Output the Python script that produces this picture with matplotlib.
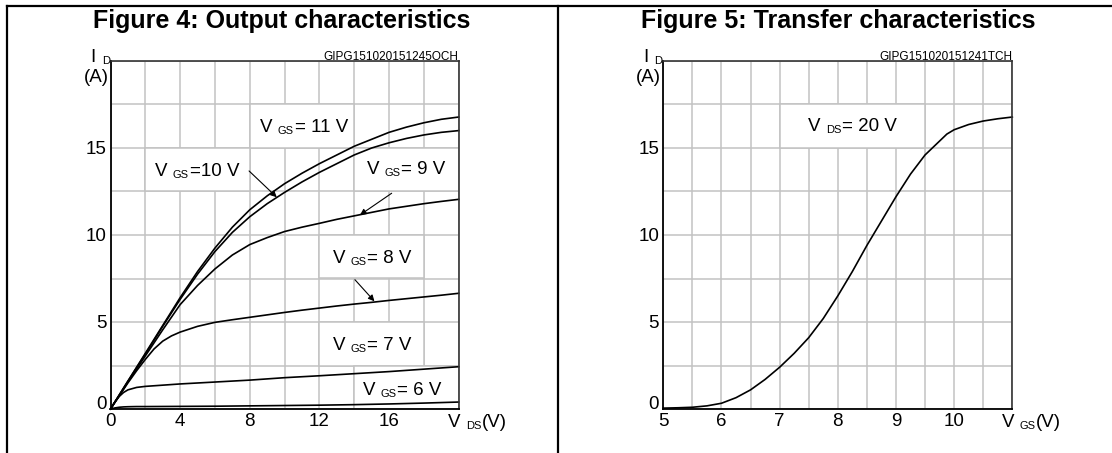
import matplotlib
matplotlib.use("Agg")
import matplotlib.pyplot as plt
from matplotlib.patches import Rectangle
from matplotlib.lines import Line2D
from matplotlib.ticker import MultipleLocator

plt.rcParams['font.family'] = ['Liberation Sans', 'DejaVu Sans']

# ---------- data: Figure 4, output characteristics (I_D vs V_DS) ----------
vds = [0, 1, 2, 3, 4, 5, 6, 7, 8, 9, 10, 11, 12, 13, 14, 15, 16, 17, 18, 19, 20]
id_vgs11 = [0, 1.6, 3.2, 4.8, 6.4, 7.9, 9.25, 10.45, 11.45, 12.25, 12.95, 13.55, 14.1,
            14.6, 15.1, 15.5, 15.9, 16.2, 16.45, 16.65, 16.78]
id_vgs10 = [0, 1.6, 3.15, 4.75, 6.3, 7.75, 9.05, 10.15, 11.05, 11.8, 12.45, 13.05, 13.6,
            14.1, 14.6, 15.0, 15.3, 15.55, 15.75, 15.9, 16.0]
id_vgs9 = [0, 1.55, 3.05, 4.55, 6.0, 7.1, 8.05, 8.85, 9.45, 9.85, 10.2, 10.45, 10.67,
           10.9, 11.1, 11.3, 11.5, 11.65, 11.8, 11.93, 12.05]

vds_8 = [0, 0.5, 1, 1.5, 2, 2.5, 3, 3.5, 4, 5, 6, 7, 8, 9, 10, 11, 12, 13, 14, 15, 16, 17, 18, 19, 20]
id_vgs8 = [0, 0.75, 1.5, 2.2, 2.85, 3.45, 3.9, 4.2, 4.42, 4.75, 4.98, 5.13, 5.27, 5.41, 5.55,
           5.68, 5.8, 5.92, 6.03, 6.13, 6.24, 6.34, 6.44, 6.54, 6.65]

vds_low = [0, 0.25, 0.5, 0.75, 1, 1.5, 2, 4, 6, 8, 10, 12, 14, 16, 18, 20]
id_vgs7 = [0, 0.4, 0.72, 0.95, 1.1, 1.24, 1.3, 1.44, 1.55, 1.66, 1.8, 1.91, 2.03, 2.15, 2.29, 2.43]
id_vgs6 = [0, 0.06, 0.1, 0.12, 0.13, 0.14, 0.14, 0.15, 0.16, 0.18, 0.2, 0.22, 0.25, 0.29, 0.34, 0.4]

# ---------- data: Figure 5, transfer characteristics (I_D vs V_GS) ----------
vgs = [5, 5.25, 5.5, 5.75, 6, 6.25, 6.5, 6.75, 7, 7.25, 7.5, 7.75, 8, 8.25, 8.5, 8.75,
       9, 9.25, 9.5, 9.75, 9.875, 10, 10.25, 10.5, 10.75, 11]
id_transfer = [0.05, 0.07, 0.1, 0.18, 0.33, 0.65, 1.1, 1.7, 2.4, 3.2, 4.1, 5.2, 6.5, 7.9,
               9.4, 10.8, 12.2, 13.5, 14.6, 15.4, 15.8, 16.05, 16.35, 16.55, 16.68, 16.78]

W, H = 1112, 453
GRID = '#c2c2c2'
MAIN = 13.5
SUB = 8


def sub_label(ax, xy, xycoords, main, sub, rest, off=(0, 0), gap=5):
    # main text + small lowered subscript + rest, baselines chained
    t1 = ax.annotate(main, xy=xy, xycoords=xycoords, xytext=off, textcoords='offset pixels',
                     fontsize=MAIN, ha='left', va='baseline', annotation_clip=False, zorder=4)
    t2 = ax.annotate(sub, xy=(1, 0), xycoords=t1, xytext=(gap, 0), textcoords='offset pixels',
                     fontsize=SUB, ha='left', va='bottom', annotation_clip=False, zorder=4)
    if rest:
        ax.annotate(rest, xy=(1, 0), xycoords=(t2, t1), xytext=(1, 0), textcoords='offset pixels',
                    fontsize=MAIN, ha='left', va='bottom', annotation_clip=False, zorder=4)


def white_box(ax, x0, y0, x1, y1):
    ax.add_patch(Rectangle((x0, y0), x1 - x0, y1 - y0, facecolor='white',
                           edgecolor=GRID, lw=1.1, zorder=1))


def arrow(ax, tail, tip):
    ax.annotate('', xy=tip, xytext=tail,
                arrowprops=dict(arrowstyle='-|>', color='black', lw=0.8,
                                mutation_scale=9, shrinkA=0, shrinkB=0), zorder=4)


def style_axes(ax, code, xlabel_x, xlabel_sub):
    ax.set_axisbelow(True)
    ax.grid(True, which='both', color=GRID, lw=1.1)
    ax.tick_params(which='both', length=0, labelsize=MAIN, pad=3)
    for side in ['left', 'bottom']:
        ax.spines[side].set_color('black')
        ax.spines[side].set_linewidth(1.3)
    for side in ['top', 'right']:
        ax.spines[side].set_color('#333333')
        ax.spines[side].set_linewidth(1.2)
    ax.set_ylim(0, 20)
    ax.yaxis.set_major_locator(MultipleLocator(5))
    ax.yaxis.set_minor_locator(MultipleLocator(2.5))
    ax.set_yticks([0, 5, 10, 15])
    ax.yaxis.get_major_ticks()[0].label1.set_va('baseline')
    # part number, y label, x label
    ax.annotate(code, xy=(1, 1), xycoords='axes fraction', xytext=(0, 1), textcoords='offset pixels',
                ha='right', va='baseline', fontsize=8.5, annotation_clip=False)
    sub_label(ax, (0, 1), 'axes fraction', 'I', 'D', '', off=(-20, -1), gap=6)
    ax.annotate('(A)', xy=(0, 1), xycoords='axes fraction', xytext=(-2, -21), textcoords='offset pixels',
                ha='right', va='baseline', fontsize=MAIN, annotation_clip=False)
    sub_label(ax, (xlabel_x, 0), ('data', 'axes fraction'), 'V', xlabel_sub, '(V)', off=(0, -18))


fig = plt.figure(figsize=(W / 100, H / 100), dpi=100)
ax1 = fig.add_axes([110.5 / W, 1 - 409 / H, 348.2 / W, 348 / H])
ax2 = fig.add_axes([663.3 / W, 1 - 409 / H, 349 / W, 348 / H])

# ---------- Figure 4 ----------
ax1.set_xlim(0, 20)
ax1.xaxis.set_minor_locator(MultipleLocator(2))
ax1.set_xticks([0, 4, 8, 12, 16])
style_axes(ax1, 'GIPG151020151245OCH', 19.4, 'DS')

white_box(ax1, 8, 15, 14, 17.5)
white_box(ax1, 2, 12.5, 8, 15)
white_box(ax1, 14, 12.5, 20, 15)
white_box(ax1, 12, 7.5, 18, 10)
white_box(ax1, 12, 2.5, 18, 5)
white_box(ax1, 14, 0, 20, 2.5)

for xs, ys in [(vds, id_vgs11), (vds, id_vgs10), (vds, id_vgs9),
               (vds_8, id_vgs8), (vds_low, id_vgs7), (vds_low, id_vgs6)]:
    ax1.plot(xs, ys, color='black', lw=1.2, zorder=2, clip_on=False)

sub_label(ax1, (8.59, 15.9), 'data', 'V', 'GS', '= 11 V')
sub_label(ax1, (2.56, 13.39), 'data', 'V', 'GS', '=10 V')
sub_label(ax1, (14.71, 13.5), 'data', 'V', 'GS', '= 9 V')
sub_label(ax1, (12.76, 8.38), 'data', 'V', 'GS', '= 8 V')
sub_label(ax1, (12.78, 3.37), 'data', 'V', 'GS', '= 7 V')
sub_label(ax1, (14.5, 0.83), 'data', 'V', 'GS', '= 6 V')

arrow(ax1, (7.96, 13.68), (9.55, 12.17))
arrow(ax1, (16.15, 12.4), (14.33, 11.15))
arrow(ax1, (14.04, 7.43), (15.16, 6.19))

# ---------- Figure 5 ----------
ax2.set_xlim(5, 11)
ax2.xaxis.set_minor_locator(MultipleLocator(0.5))
ax2.set_xticks([5, 6, 7, 8, 9, 10])
style_axes(ax2, 'GIPG151020151241TCH', 10.82, 'GS')

white_box(ax2, 7, 15, 9.5, 17.5)
ax2.plot(vgs, id_transfer, color='black', lw=1.2, zorder=2, clip_on=False)
sub_label(ax2, (7.49, 16.0), 'data', 'V', 'DS', '= 20 V')

# ---------- titles and table frame ----------
fig.text(282 / W, 1 - 28 / H, 'Figure 4: Output characteristics', ha='center', va='baseline',
         fontsize=18, fontweight='bold')
fig.text(838 / W, 1 - 28 / H, 'Figure 5: Transfer characteristics', ha='center', va='baseline',
         fontsize=18, fontweight='bold')

frame = dict(color='black', lw=1.6, transform=fig.transFigure)
fig.add_artist(Line2D([7 / W, 1], [1 - 6 / H, 1 - 6 / H], **frame))
fig.add_artist(Line2D([7 / W, 7 / W], [0, 1 - 6 / H], **frame))
fig.add_artist(Line2D([558 / W, 558 / W], [0, 1 - 6 / H], **frame))

fig.savefig('out.png', dpi=100)
